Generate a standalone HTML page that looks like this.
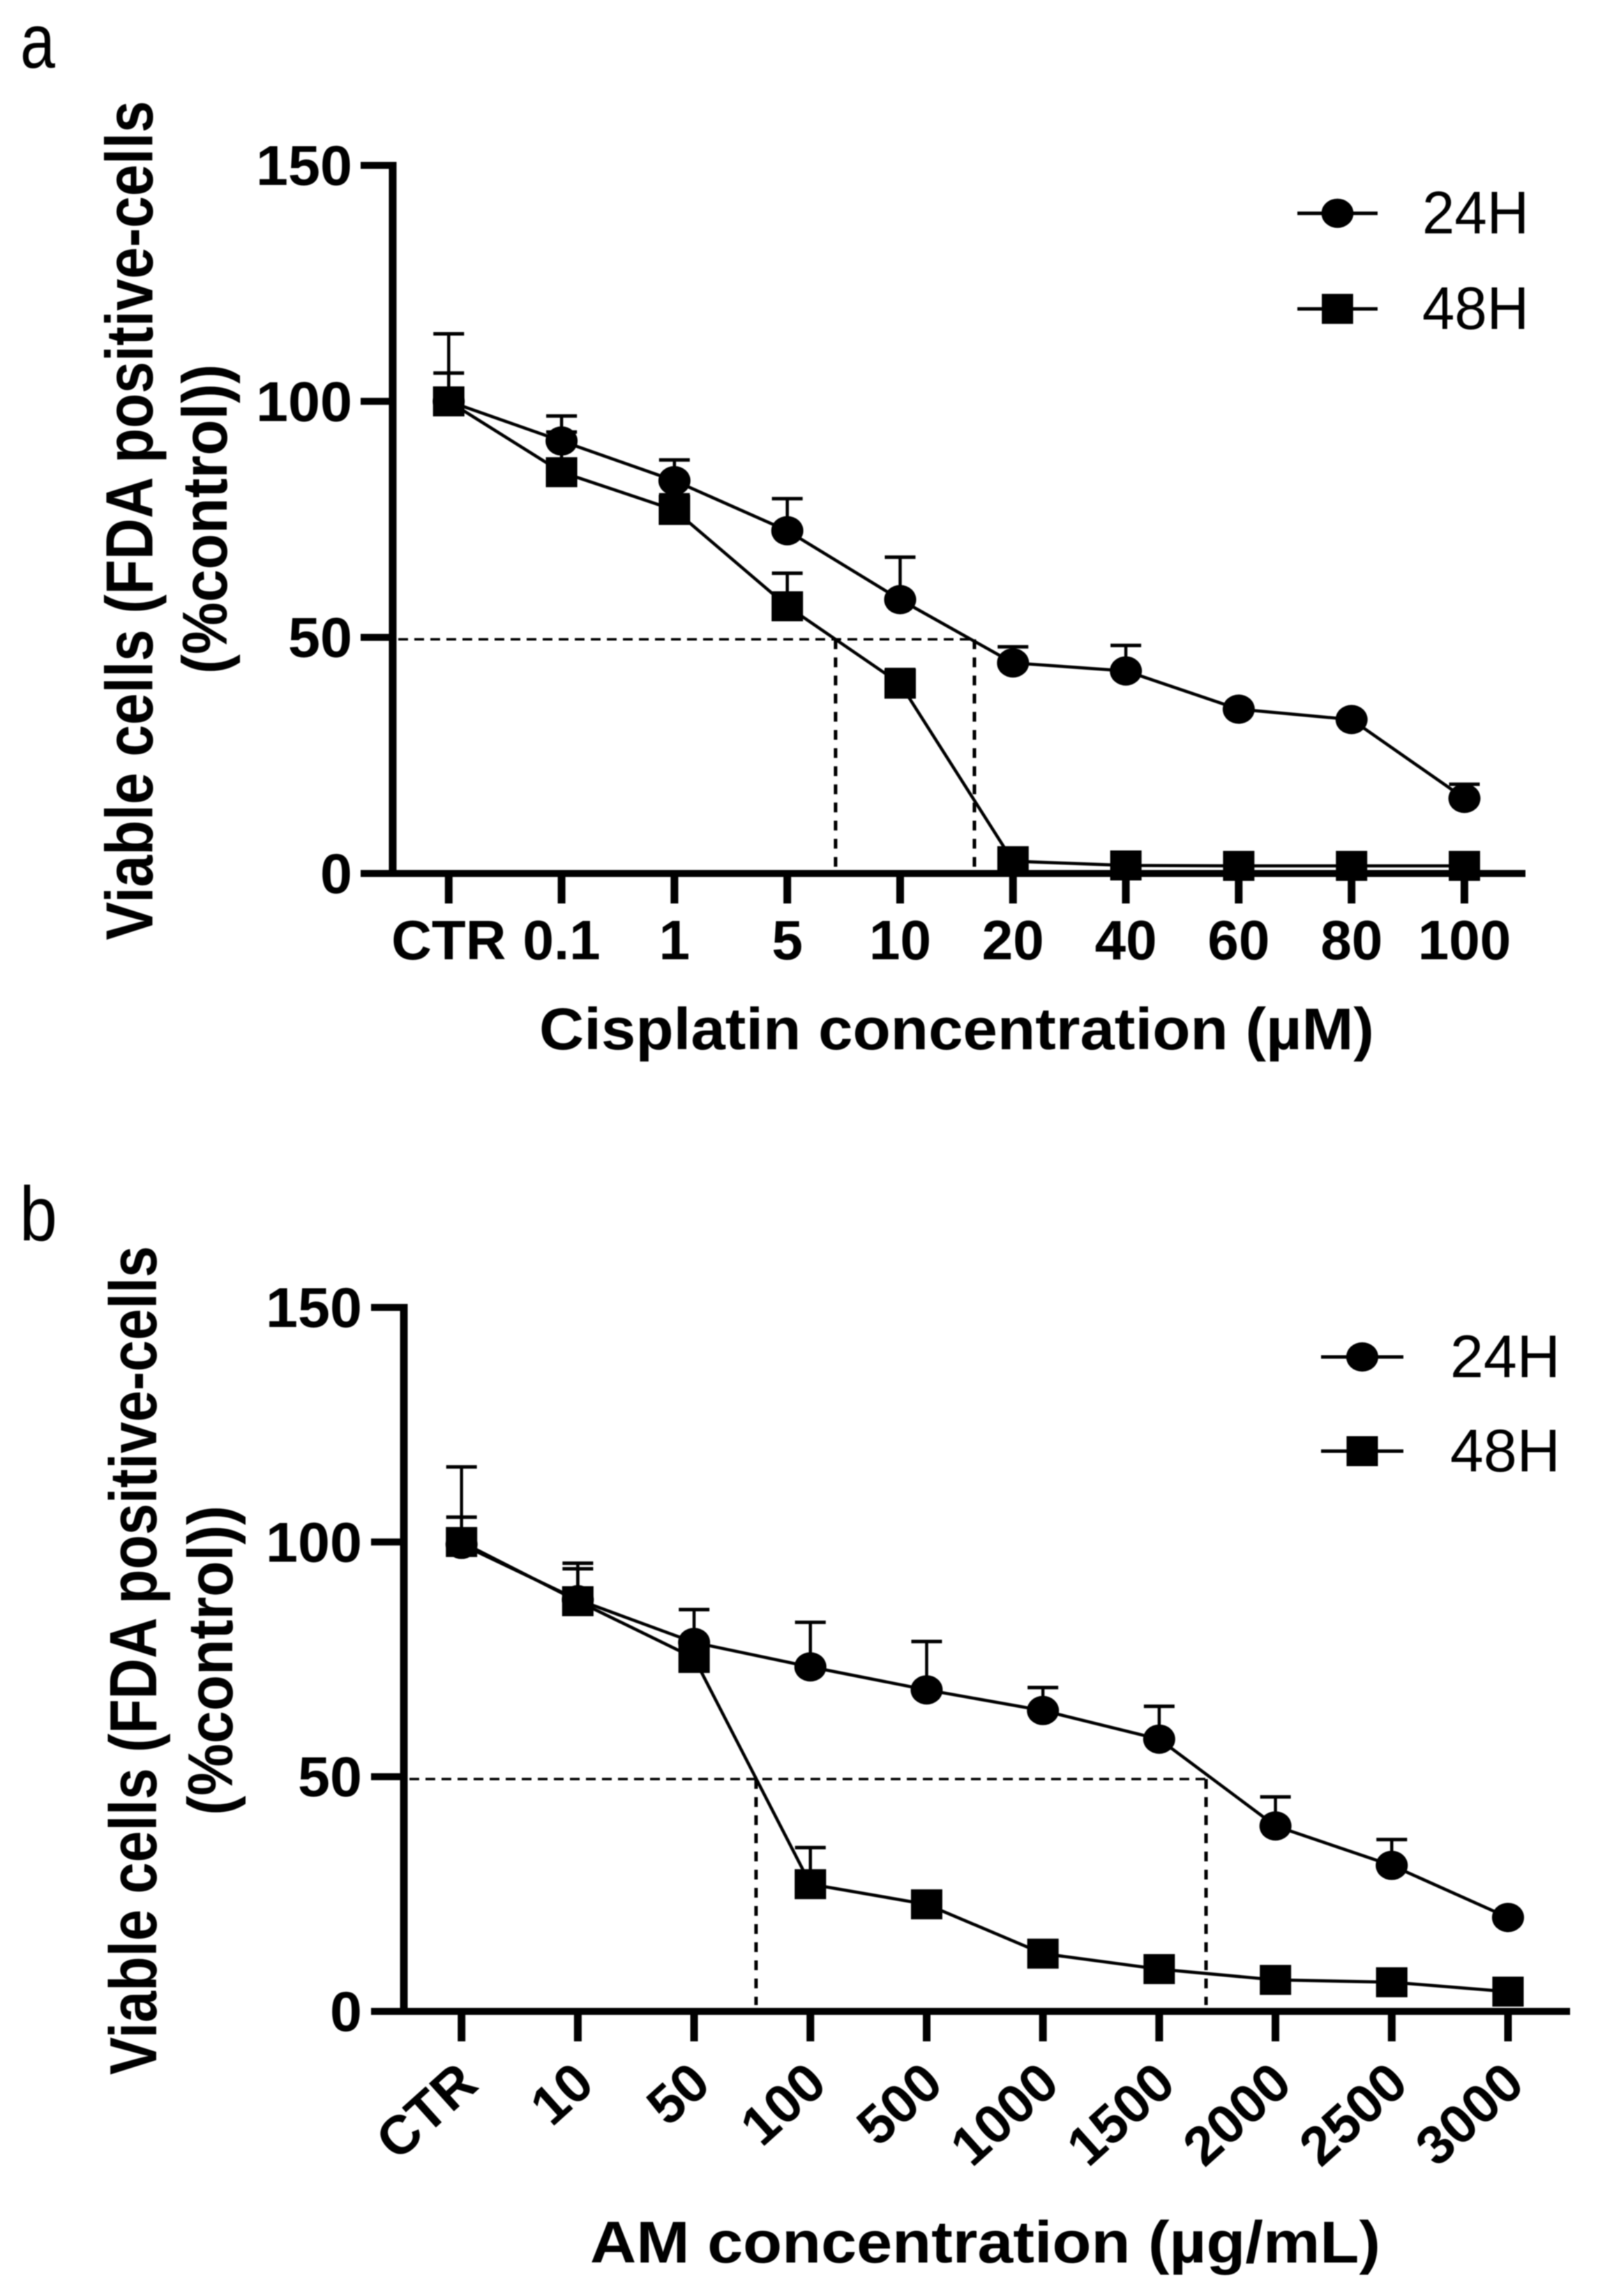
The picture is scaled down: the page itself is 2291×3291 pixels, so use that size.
<!DOCTYPE html>
<html lang="en">
<head>
<meta charset="utf-8">
<title>Cell viability charts</title>
<style>
html,body{margin:0;padding:0;background:#fff;}
svg{display:block;filter:blur(0.8px);}
text{font-family:"Liberation Sans",Arial,sans-serif;fill:#000;}
</style>
</head>
<body>
<svg id="figure" xmlns="http://www.w3.org/2000/svg" width="2291" height="3291" viewBox="0 0 2291 3291">
  <rect width="2291" height="3291" fill="#fff"/>
  <text x="29" y="97" font-size="110" textLength="50" lengthAdjust="spacingAndGlyphs">a</text>
  <text x="28" y="1778" font-size="110" textLength="54" lengthAdjust="spacingAndGlyphs">b</text>

  <text transform="translate(218.5,746) rotate(-90)" text-anchor="middle" font-size="96" font-weight="bold" textLength="1203" lengthAdjust="spacingAndGlyphs">Viable cells (FDA positive-cells</text>
  <text transform="translate(325,744) rotate(-90)" text-anchor="middle" font-size="91" font-weight="bold" textLength="444" lengthAdjust="spacingAndGlyphs">(%control))</text>
  <text x="773" y="1504" font-size="84" font-weight="bold" textLength="1197" lengthAdjust="spacingAndGlyphs">Cisplatin concentration (µM)</text>

  <text transform="translate(224,2380) rotate(-90)" text-anchor="middle" font-size="96" font-weight="bold" textLength="1188" lengthAdjust="spacingAndGlyphs">Viable cells (FDA positive-cells</text>
  <text transform="translate(333,2380) rotate(-90)" text-anchor="middle" font-size="91" font-weight="bold" textLength="444" lengthAdjust="spacingAndGlyphs">(%control))</text>
  <text x="846" y="3243" font-size="84" font-weight="bold" textLength="1133" lengthAdjust="spacingAndGlyphs">AM concentration (µg/mL)</text>
</svg>
<script>
const yTickValues = [0, 50, 100, 150];

const cisplatinCategories = ['CTR', '0.1', '1', '5', '10', '20', '40', '60', '80', '100'];
const cisplatin24Values = [100, 91.6, 83.2, 72.6, 58, 44.6, 42.9, 34.8, 32.6, 15.9];
const cisplatin24Errors = [6, 5.3, 4.4, 6.8, 9, 3.4, 5.4, 0, 0, 3];
const cisplatin48Values = [100, 85, 77, 56.6, 40.2, 2.6, 1.7, 1.6, 1.6, 1.6];
const cisplatin48Errors = [14.3, 8.5, 3.2, 7, 3, 0, 0, 0, 0, 0];
const cisplatinThreshold = 49.6;
const cisplatinCrossings = [3.428, 4.658];

const amCategories = ['CTR', '10', '50', '100', '500', '1000', '1500', '2000', '2500', '3000'];
const am24Values = [99.5, 87.7, 78.6, 73.4, 68.5, 64.1, 58, 39.5, 31.1, 20];
const am24Errors = [16.5, 7.8, 7, 9.5, 10.3, 4.9, 7, 6.2, 5.5, 0];
const am48Values = [100, 87.4, 75.3, 27.1, 22.8, 12.3, 9, 6.7, 6.2, 4.2];
const am48Errors = [5.3, 6.9, 0, 7.8, 0, 0, 0, 0, 0, 0];
const amThreshold = 49.5;
const amCrossings = [2.533, 6.403];

const legendLabels = ['24H', '48H'];

const NS = 'http://www.w3.org/2000/svg';
const figure = document.getElementById('figure');

function make(tag, attrs, parent) {
  const el = document.createElementNS(NS, tag);
  for (const key in attrs) el.setAttribute(key, attrs[key]);
  (parent || figure).appendChild(el);
  return el;
}

function drawMarker(parent, shape, cx, cy) {
  if (shape === 'circle') {
    return make('ellipse', {cx: cx, cy: cy, rx: 23, ry: 21, fill: '#000'}, parent);
  }
  return make('rect', {x: cx - 22.5, y: cy - 21.5, width: 45, height: 43, fill: '#000'}, parent);
}

function drawPanel(p) {
  const xScale = i => p.x0 + i * p.xStep;
  const yScale = v => p.yZero - v * p.yPerUnit;

  const g = make('g', {});
  
  

  const yAxis = make('line', {x1: p.axisX, x2: p.axisX, y1: yScale(150) - 5, y2: p.yZero + 5, stroke: '#000', 'stroke-width': 11}, g);
  
  

  const xAxis = make('line', {x1: p.axisX - 5, x2: p.axisEnd, y1: p.yZero, y2: p.yZero, stroke: '#000', 'stroke-width': 10}, g);
  
  

  yTickValues.forEach(v => {
    const tick = make('line', {x1: p.tickLeft, x2: p.axisX, y1: yScale(v), y2: yScale(v), stroke: '#000', 'stroke-width': 10}, g);
    
    
    const text = String(v);
    const label = make('text', {x: p.yLabelRight, y: yScale(v) + 28, 'text-anchor': 'end', 'font-size': 81, 'font-weight': 'bold', textLength: text.length * 46, lengthAdjust: 'spacingAndGlyphs'}, g);
    label.textContent = text;
    
    
  });

  p.categories.forEach((c, i) => {
    const tick = make('line', {x1: xScale(i), x2: xScale(i), y1: p.yZero, y2: p.yZero + 43, stroke: '#000', 'stroke-width': 11}, g);
    
    
    let label;
    if (p.rotated) {
      label = make('text', {transform: 'translate(' + (xScale(i) + 27) + ',' + (p.yZero + 109) + ') rotate(-42)', 'text-anchor': 'end', 'font-size': 78, 'font-weight': 'bold'}, g);
    } else {
      label = make('text', {x: xScale(i), y: p.yZero + 123, 'text-anchor': 'middle', 'font-size': 80, 'font-weight': 'bold'}, g);
    }
    label.textContent = c;
    
    
  });

  const dashY = yScale(p.threshold);
  const dashEnd = xScale(p.crossings[1]);
  const hDash = make('line', {x1: p.axisX + 8, x2: dashEnd, y1: dashY, y2: dashY, stroke: '#000', 'stroke-width': 3.5, 'stroke-dasharray': '14 9'}, g);
  
  
  p.crossings.forEach(cx => {
    const vDash = make('line', {x1: xScale(cx), x2: xScale(cx), y1: dashY, y2: p.yZero - 9, stroke: '#000', 'stroke-width': 5, 'stroke-dasharray': '14 12'}, g);
    
    
  });

  p.series.forEach(s => {
    const sg = make('g', {}, g);
    
    

    s.values.forEach((v, i) => {
      if (!s.errors[i]) return;
      const top = yScale(v + s.errors[i]);
      const stem = make('line', {x1: xScale(i), x2: xScale(i), y1: yScale(v), y2: top, stroke: '#000', 'stroke-width': 4.5}, sg);
      
      
      const cap = make('line', {x1: xScale(i) - 22, x2: xScale(i) + 22, y1: top, y2: top, stroke: '#000', 'stroke-width': 5}, sg);
      
      
    });

    const pts = s.values.map((v, i) => xScale(i) + ',' + yScale(v)).join(' ');
    const line = make('polyline', {points: pts, fill: 'none', stroke: '#000', 'stroke-width': 4.5}, sg);
    
    

    s.values.forEach((v, i) => {
      const marker = drawMarker(sg, s.shape, xScale(i), yScale(v));
      
      
    });
  });

  legendLabels.forEach((name, i) => {
    const ly = p.legend.y[i];
    const entry = make('g', {}, g);
    
    
    const swatch = make('line', {x1: p.legend.x1, x2: p.legend.x2, y1: ly, y2: ly, stroke: '#000', 'stroke-width': 5}, entry);
    
    
    const marker = drawMarker(entry, i === 0 ? 'circle' : 'square', (p.legend.x1 + p.legend.x2) / 2, ly);
    
    
    const label = make('text', {x: p.legend.textX, y: ly + 29, 'font-size': 86, textLength: p.legend.textWidth, lengthAdjust: 'spacingAndGlyphs'}, entry);
    label.textContent = name;
    
    
  });
}

drawPanel({
  id: 'panel-a', categories: cisplatinCategories,
  x0: 643.3, xStep: 161.8, yZero: 1252, yPerUnit: 6.767,
  axisX: 563, axisEnd: 2187, tickLeft: 517, yLabelRight: 505, rotated: false,
  threshold: cisplatinThreshold, crossings: cisplatinCrossings,
  series: [
    {name: '24h', shape: 'circle', values: cisplatin24Values, errors: cisplatin24Errors},
    {name: '48h', shape: 'square', values: cisplatin48Values, errors: cisplatin48Errors}
  ],
  legend: {x1: 1860, x2: 1975, y: [305.7, 442.7], textX: 2039, textWidth: 153}
});

drawPanel({
  id: 'panel-b', categories: amCategories,
  x0: 661.7, xStep: 166.7, yZero: 2883, yPerUnit: 6.727,
  axisX: 579, axisEnd: 2251, tickLeft: 532, yLabelRight: 519, rotated: true,
  threshold: amThreshold, crossings: amCrossings,
  series: [
    {name: '24h', shape: 'circle', values: am24Values, errors: am24Errors},
    {name: '48h', shape: 'square', values: am48Values, errors: am48Errors}
  ],
  legend: {x1: 1894, x2: 2012, y: [1945, 2080], textX: 2079, textWidth: 158}
});
</script>
</body>
</html>
